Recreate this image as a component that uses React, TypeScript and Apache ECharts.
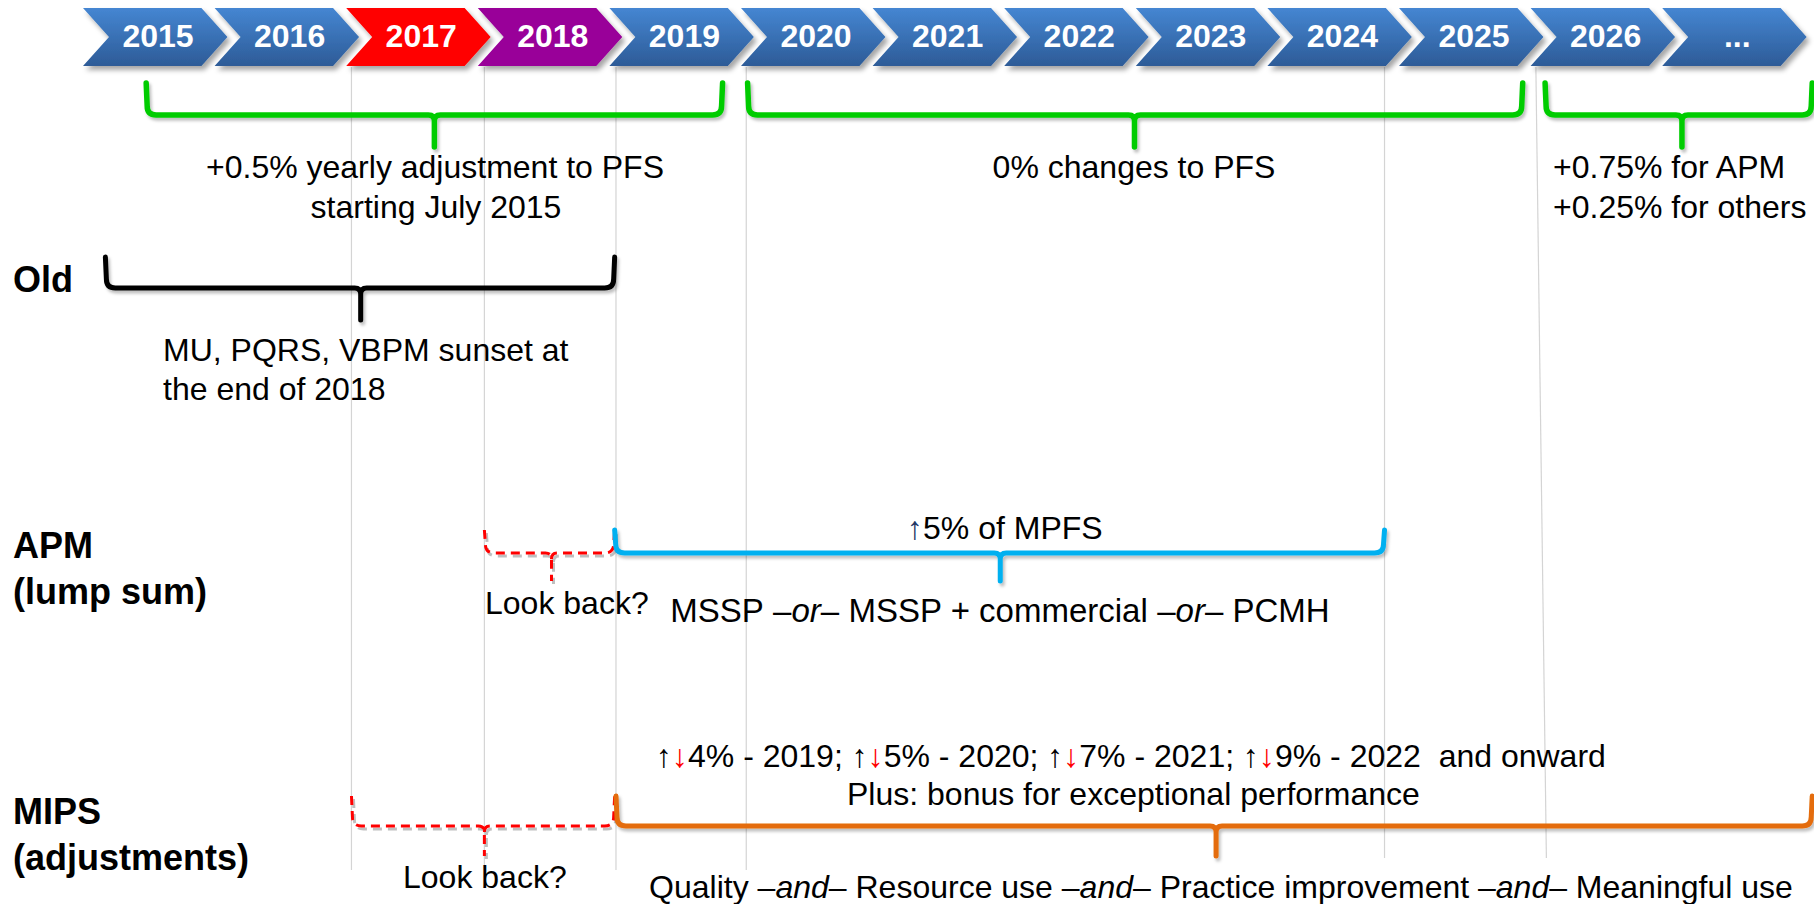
import React, { useEffect, useRef } from 'react';
import * as echarts from 'echarts';

// ---------- data ----------
const yearLabels = ['2015', '2016', '2017', '2018', '2019', '2020', '2021', '2022', '2023', '2024', '2025', '2026', '...'];
const firstYear = 2015;

// thin guide lines: [year at top, year at bottom]
const guideLineYears = [
  [2017.04, 2017.04],
  [2018.05, 2018.05],
  [2019.05, 2019.05],
  [2020.04, 2020.04],
  [2024.89, 2024.89],
  [2026.04, 2026.12],
];

// braces: [startYear, endYear, tipYear]
const pfsBraces = [
  [2015.48, 2019.86, 2017.67],
  [2020.05, 2025.94, 2022.99],
  [2026.11, 2028.14, 2027.15],
];
const oldBrace = [2015.17, 2019.04, 2017.11];
const apmLookBackBrace = [2018.05, 2019.04, 2018.56];
const apmBrace = [2019.04, 2024.89, 2021.97];
const mipsLookBackBrace = [2017.04, 2019.04, 2018.05];
const mipsBrace = [2019.05, 2028.14, 2023.61];

// texts
const pfsEarlyNotes = ['+0.5% yearly adjustment to PFS', 'starting July 2015'];
const pfsFlatNote = '0% changes to PFS';
const pfsLateNotes = ['+0.75% for APM', '+0.25% for others'];
const oldTitle = 'Old';
const oldNotes = ['MU, PQRS, VBPM sunset at', 'the end of 2018'];
const apmTitle = ['APM', '(lump sum)'];
const apmBonus = '5% of MPFS';
const apmOptions = ['MSSP', 'MSSP + commercial', 'PCMH'];
const mipsTitle = ['MIPS', '(adjustments)'];
const mipsRates = [['4%', '2019'], ['5%', '2020'], ['7%', '2021'], ['9%', '2022']];
const mipsRatesTail = '  and onward';
const mipsBonus = 'Plus: bonus for exceptional performance';
const mipsCategories = ['Quality', 'Resource use', 'Practice improvement', 'Meaningful use'];
const lookBackText = 'Look back?';

// ---------- layout / style ----------
const W = 1814;
const H = 904;
const PITCH = 131.6;
const LEFT = 83;
const xMin = firstYear - LEFT / PITCH;
const xMax = xMin + W / PITCH;
const FONT = '"Liberation Sans", Arial, Helvetica, sans-serif';

const chevronHighlight: Record<string, string> = { '2017': '#ff0000', '2018': '#990099' };

const rows = {
  pfs: { top: 83, line: 115, tip: 147 },
  old: { top: 257, line: 288, tip: 320 },
  apm: { top: 530, line: 553, tip: 581 },
  mips: { top: 796, line: 826, tip: 856 },
};

type BraceDef = { span: number[]; row: { top: number; line: number; tip: number }; color: string; width: number; dash?: number[] };
const braceDefs: BraceDef[] = [
  ...pfsBraces.map((span) => ({ span, row: rows.pfs, color: '#00cc00', width: 5.5 })),
  { span: oldBrace, row: rows.old, color: '#000000', width: 5 },
  { span: apmLookBackBrace, row: rows.apm, color: '#ff0000', width: 3, dash: [9, 6] },
  { span: apmBrace, row: rows.apm, color: '#00b0f0', width: 5 },
  { span: mipsLookBackBrace, row: rows.mips, color: '#ff0000', width: 3, dash: [9, 6] },
  { span: mipsBrace, row: rows.mips, color: '#e46c0a', width: 5 },
];

function bracePath(x1: number, x2: number, xt: number, yTop: number, yLine: number, yTip: number) {
  const r = 9;
  const rt = 6;
  return (
    `M${x1},${yTop} L${x1 + 1},${yLine - r} Q${x1 + 1},${yLine} ${x1 + 1 + r},${yLine} ` +
    `L${xt - rt},${yLine} Q${xt},${yLine} ${xt},${yLine + rt} L${xt},${yTip} ` +
    `M${xt},${yLine + rt} Q${xt},${yLine} ${xt + rt},${yLine} ` +
    `L${x2 - 1 - r},${yLine} Q${x2 - 1},${yLine} ${x2 - 1},${yLine - r} L${x2},${yTop}`
  );
}

function textEl(text: string, x: number, yBaseline: number, opts: { size?: number; bold?: boolean; align?: string; rich?: any; fill?: string } = {}) {
  const size = opts.size ?? 32;
  const y = yBaseline - 0.3465 * size;
  const align = opts.align ?? 'left';
  return {
    type: 'text',
    x,
    y,
    z: 10,
    silent: true,
    style: {
      text,
      x: 0,
      y: 0,
      fill: opts.fill ?? '#000',
      fontSize: size,
      fontFamily: FONT,
      fontWeight: opts.bold ? 'bold' : 'normal',
      align,
      textAlign: align,
      verticalAlign: 'middle',
      textVerticalAlign: 'middle',
      rich: opts.rich,
    },
  };
}

function makeRich(size: number) {
  return {
    n: { fontSize: size, fontFamily: FONT, fill: '#000' },
    i: { fontSize: size, fontFamily: FONT, fontStyle: 'italic', fill: '#000' },
    u: { fontSize: size, fontFamily: FONT, fill: '#000' },
    d: { fontSize: size, fontFamily: FONT, fill: '#ff0000' },
    b: { fontSize: size, fontFamily: FONT, fill: '#1f3864' },
  };
}
const richBase = makeRich(32);
const richLarge = makeRich(33);

const apmOptionsRich = apmOptions.map((p) => `{n|${p}}`).join('{n| –}{i|or}{n|– }');
const mipsCategoriesRich = mipsCategories.map((p) => `{n|${p}}`).join('{n| –}{i|and}{n|– }');
const mipsRatesRich =
  mipsRates.map(([pct, yr]) => `{u|↑}{d|↓}{n|${pct} - ${yr}}`).join('{n|; }') + `{n|${mipsRatesTail}}`;
const apmBonusRich = `{b|↑}{n|${apmBonus}}`;

function buildOption() {
  const blueGrad = new echarts.graphic.LinearGradient(0, 0, 0, 1, [
    { offset: 0, color: '#4586d2' },
    { offset: 1, color: '#2d5b97' },
  ]);

  return {
    animation: false,
    grid: { left: 0, right: 0, top: 0, bottom: 0, containLabel: false },
    xAxis: { type: 'value', min: xMin, max: xMax, show: false },
    yAxis: { type: 'value', min: 0, max: H, inverse: true, show: false },
    series: [
      {
        type: 'custom',
        name: 'guides',
        silent: true,
        z: 1,
        data: guideLineYears.map((g, i) => [g[0], 400, i]),
        renderItem: (params: any, api: any) => {
          const g = guideLineYears[params.dataIndex];
          const bottom = g[0] > 2024 ? 858 : 870;
          const p1 = api.coord([g[0], 67]);
          const p2 = api.coord([g[1], bottom]);
          return {
            type: 'line',
            shape: { x1: p1[0], y1: p1[1], x2: p2[0], y2: p2[1] },
            style: { stroke: '#d4d4d4', lineWidth: 1.2 },
          };
        },
      },
      {
        type: 'custom',
        name: 'years',
        silent: true,
        z: 3,
        data: yearLabels.map((_, i) => [firstYear + i, 37]),
        renderItem: (params: any, api: any) => {
          const i = params.dataIndex;
          const [x0, yT] = api.coord([firstYear + i, 8]);
          const [x1, yB] = api.coord([firstYear + i + 1, 66]);
          const pitch = x1 - x0;
          const body = pitch * 0.9;
          const d = 26;
          const yM = (yT + yB) / 2;
          const label = yearLabels[i];
          const fill = chevronHighlight[label] ?? blueGrad;
          return {
            type: 'group',
            children: [
              {
                type: 'polygon',
                shape: {
                  points: [
                    [x0, yT],
                    [x0 + body, yT],
                    [x0 + body + d, yM],
                    [x0 + body, yB],
                    [x0, yB],
                    [x0 + d, yM],
                  ],
                },
                style: {
                  fill,
                  shadowBlur: 5,
                  shadowOffsetX: 3,
                  shadowOffsetY: 4,
                  shadowColor: 'rgba(0,0,0,0.35)',
                },
              },
              {
                type: 'text',
                style: {
                  text: label,
                  x: x0 + pitch * 0.57,
                  y: yM - 1.5,
                  fill: '#ffffff',
                  fontSize: 32,
                  fontWeight: 'bold',
                  fontFamily: FONT,
                  align: 'center',
                  verticalAlign: 'middle',
                  textAlign: 'center',
                  textVerticalAlign: 'middle',
                },
              },
            ],
          };
        },
      },
      {
        type: 'custom',
        name: 'braces',
        silent: true,
        z: 2,
        data: braceDefs.map((b) => [b.span[2], b.row.line]),
        renderItem: (params: any, api: any) => {
          const b = braceDefs[params.dataIndex];
          const [x1, yTop] = api.coord([b.span[0], b.row.top]);
          const [x2, yLine] = api.coord([b.span[1], b.row.line]);
          const [xt, yTip] = api.coord([b.span[2], b.row.tip]);
          return {
            type: 'path',
            shape: { pathData: bracePath(x1, x2, xt, yTop, yLine, yTip) },
            style: {
              fill: 'none',
              stroke: b.color,
              lineWidth: b.width,
              lineDash: b.dash,
              lineCap: b.dash ? 'butt' : 'round',
              lineJoin: 'round',
              shadowBlur: b.dash ? 0 : 3,
              shadowOffsetX: 2,
              shadowOffsetY: 3,
              shadowColor: 'rgba(0,0,0,0.25)',
            },
          };
        },
      },
    ],
    graphic: {
      elements: [
        textEl(pfsEarlyNotes[0], 435, 178, { align: 'center' }),
        textEl(pfsEarlyNotes[1], 436, 218, { align: 'center' }),
        textEl(pfsFlatNote, 1134, 178, { align: 'center' }),
        textEl(pfsLateNotes[0], 1553, 178),
        textEl(pfsLateNotes[1], 1553, 218),
        textEl(oldTitle, 13, 292, { size: 36, bold: true }),
        textEl(oldNotes[0], 163, 361),
        textEl(oldNotes[1], 163, 400),
        textEl(apmTitle[0], 13, 558, { size: 36, bold: true }),
        textEl(apmTitle[1], 13, 604, { size: 36, bold: true }),
        textEl(apmBonusRich, 907, 539, { rich: richBase }),
        textEl(lookBackText, 485, 614),
        textEl(apmOptionsRich, 1000, 622, { align: 'center', size: 33, rich: richLarge }),
        textEl(mipsTitle[0], 13, 824, { size: 36, bold: true }),
        textEl(mipsTitle[1], 13, 870, { size: 36, bold: true }),
        textEl(mipsRatesRich, 656, 767, { rich: richBase }),
        textEl(mipsBonus, 847, 805),
        textEl(lookBackText, 403, 888),
        textEl(mipsCategoriesRich, 1221, 898, { align: 'center', rich: richBase }),
      ],
    },
  };
}

export default function App() {
  const ref = useRef<HTMLDivElement>(null);
  useEffect(() => {
    if (!ref.current) return;
    const chart = echarts.init(ref.current, null, { renderer: 'svg' });
    chart.setOption(buildOption() as any);
    return () => chart.dispose();
  }, []);
  return (
    <div
      ref={ref}
      style={{ position: 'absolute', left: 0, top: 0, width: W, height: H, background: '#ffffff' }}
    />
  );
}
